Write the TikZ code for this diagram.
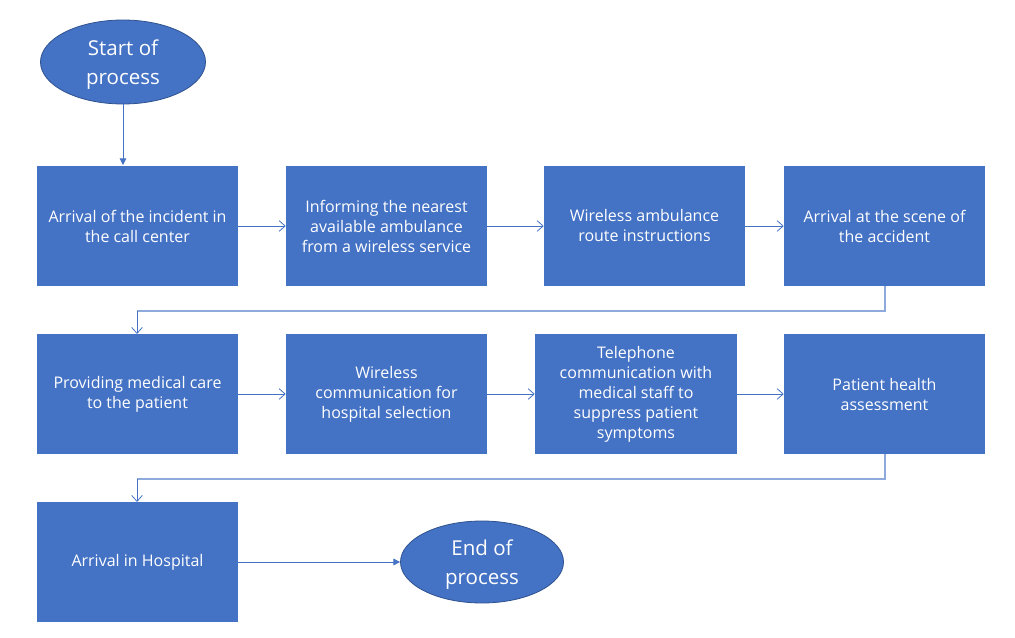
\documentclass[tikz,border=0pt]{standalone}
\usepackage{fontspec}
\setmainfont{Open Sans}
\usetikzlibrary{shapes.geometric,arrows.meta}
\definecolor{boxblue}{HTML}{4472C4}
\definecolor{edgeblue}{HTML}{2F528F}
\definecolor{lightline}{HTML}{8EA9DB}
\tikzset{
  stepbox/.style={rectangle,fill=boxblue,draw=none,minimum width=150.75pt,minimum height=90pt,
    text=white,align=center,inner sep=0pt,font=\fontsize{12}{15}\selectfont},
  terminal/.style={ellipse,fill=boxblue,draw=edgeblue,line width=0.6pt,inner sep=0pt,
    text=white,align=center,font=\fontsize{15.4}{21.75}\selectfont},
  flow/.style={draw=boxblue,line width=0.7pt,-{Straight Barb[length=4.5pt,width=8pt,line width=0.6pt]}},
  filledflow/.style={draw=boxblue,line width=0.7pt,-{Triangle[length=5pt,width=5pt]}},
  elbow/.style={draw=lightline,line width=1.1pt},
}
\begin{document}
\begin{tikzpicture}[x=0.75pt,y=-0.75pt]
\useasboundingbox (0,0) rectangle (1015,638);
\node[terminal,minimum width=123.75pt,minimum height=63pt] (start) at (123,62) {\rule{0pt}{16pt}Start of\\process};
\node[stepbox] (b1) at (137.5,226) {Arrival of the incident in\\the call center};
\node[stepbox] (b2) at (386.5,226) {Informing the nearest\\available ambulance\\from a wireless service};
\node[stepbox] (b3) at (644.5,226) {Wireless ambulance\\route instructions};
\node[stepbox] (b4) at (884.5,226) {Arrival at the scene of\\the accident};
\node[stepbox] (b5) at (137.5,394) {Providing medical care\\to the patient};
\node[stepbox] (b6) at (386.5,394) {Wireless\\communication for\\hospital selection};
\node[stepbox,minimum width=151.5pt] (b7) at (636,394) {Telephone\\communication with\\medical staff to\\suppress patient\\symptoms};
\node[stepbox] (b8) at (884.5,394) {Patient health\\assessment};
\node[stepbox] (b9) at (137.5,562) {Arrival in Hospital};
\node[terminal,minimum width=122.25pt,minimum height=61.5pt] (end) at (482,562) {\rule{0pt}{16pt}End of\\process};

\coordinate (s1) at (123,165);
\draw[filledflow] (start.south) -- (s1);
\draw[flow] (b1) -- (b2);
\draw[flow] (b2) -- (b3);
\draw[flow] (b3) -- (b4);
\coordinate (e1a) at (885,311);
\coordinate (e1b) at (137,311);
\coordinate (e1c) at (137,334);
\draw[elbow] (b4.south -| e1a) -- (e1a) -- (e1b);
\draw[flow] (e1b) -- (e1c);
\draw[flow] (b5) -- (b6);
\draw[flow] (b6) -- (b7);
\draw[flow] (b7) -- (b8);
\coordinate (e2a) at (885,479);
\coordinate (e2b) at (137,479);
\coordinate (e2c) at (137,502);
\draw[elbow] (b8.south -| e2a) -- (e2a) -- (e2b);
\draw[flow] (e2b) -- (e2c);
\draw[filledflow] (b9) -- (end);
\end{tikzpicture}
\end{document}
